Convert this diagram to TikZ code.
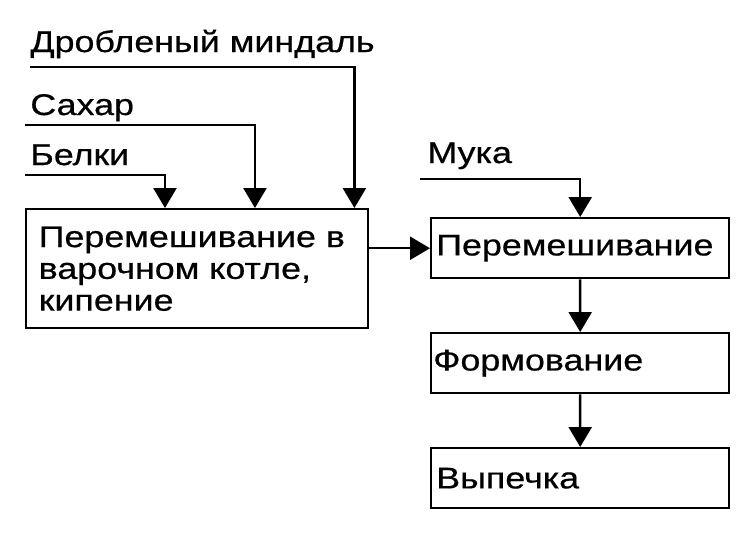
\documentclass[tikz,border=0pt]{standalone}
\usepackage{fontspec}
\setmainfont[FakeStretch=1.2,FakeBold=0.6]{Liberation Sans}
\usetikzlibrary{arrows.meta}

\begin{document}
\begin{tikzpicture}[x=0.02cm,y=-0.02cm,
    font=\fontsize{17}{18.1}\selectfont,
    feed/.style={line width=1.4pt},
    flow/.style={line width=1.4pt,-{Triangle[width=0.46cm,length=0.4cm]}},
    stage/.style={draw,line width=1.4pt,anchor=north west,minimum height=1.2cm,
      text width=5.76cm,inner xsep=0.1cm,inner ysep=0pt,align=left}]
    \useasboundingbox (0,0) rectangle (756,548);

    % Inputs
    \node[anchor=base west,inner sep=0pt] (almond) at (30,52) {Дробленый миндаль};
    \node[anchor=base west,inner sep=0pt] (sugar) at (30,115) {Сахар};
    \node[anchor=base west,inner sep=0pt] (protein) at (30,165) {Белки};
    \node[anchor=base west,inner sep=0pt] (flour) at (427,163) {Мука};
    \coordinate (almond-in) at (30,67);
    \coordinate (sugar-in) at (25,125);
    \coordinate (protein-in) at (25,175);
    \coordinate (flour-in) at (420,179);

    % Stages
    \node[draw,line width=1.4pt,anchor=north west,minimum height=2.38cm,
      text width=6.34cm,inner xsep=0.25cm,align=left] (boil) at (25,208)
      {Перемешивание в\\варочном котле,\\кипение};
    \node[stage] (knead) at (430,217) {Перемешивание};
    \node[stage,inner xsep=0.04cm,text width=5.88cm] (shape) at (430,332) {Формование};
    \node[stage,inner xsep=0.1cm] (bake) at (430,447) {Выпечка};

    % Connectors
    \draw[flow] (almond-in) -| ([xshift=-0.3cm]boil.north east);
    \draw[flow] (sugar-in) -| ([xshift=4.6cm]boil.north west);
    \draw[flow] (protein-in) -| ([xshift=2.8cm]boil.north west);
    \draw[flow] (flour-in) -| (knead.north);
    \draw[flow] (boil.east |- knead.west) -- (knead.west);
    \draw[flow] (knead) -- (shape);
    \draw[flow] (shape) -- (bake);
  \end{tikzpicture}
\end{document}
